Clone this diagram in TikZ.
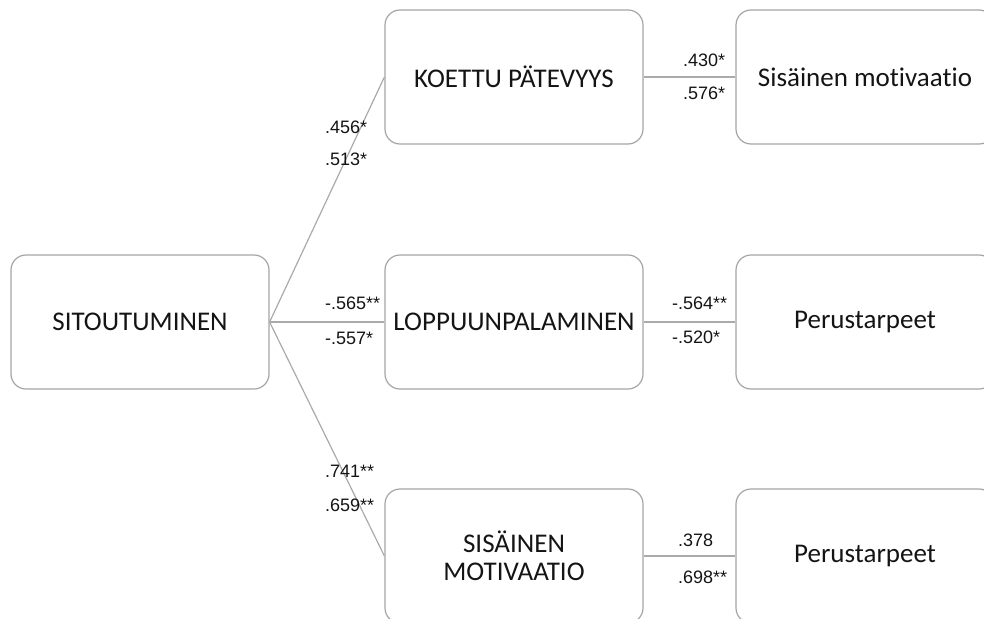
\documentclass[tikz,border=0pt]{standalone}
\usepackage{fontspec}
\setmainfont[Ligatures={NoCommon}]{Carlito}
\newfontfamily\labfont{Liberation Sans}
\definecolor{boxline}{RGB}{165,165,165}
\definecolor{conline}{RGB}{170,170,170}
\definecolor{txt}{RGB}{20,20,20}
\begin{document}
\begin{tikzpicture}[x=1pt,y=-1pt,
  box/.style={draw=boxline,line width=1.2pt,rounded corners=15pt,minimum width=258pt,minimum height=134pt,inner sep=0pt,align=center,text=txt,font=\fontsize{27}{31}\selectfont},
  conn/.style={draw=conline,line width=1.2pt},
  lab/.style={anchor=west,inner sep=0pt,text=txt,font=\labfont\fontsize{18}{20}\selectfont}]
\useasboundingbox (0,0) rectangle (984,618);
\clip (0,0) rectangle (984,618);
\node[box] (sit) at (140,322) {SITOUTUMINEN};
\node[box] (kp) at (514,77) {KOETTU PÄTEVYYS};
\node[box] (lp) at (514,322) {LOPPUUNPALAMINEN};
\node[box] (sm) at (514,556) {SISÄINEN\\[-3pt]MOTIVAATIO};
\node[box] (r1) at (865,77) {Sisäinen motivaatio};
\node[box] (r2) at (865,322) {Perustarpeet};
\node[box] (r3) at (865,556) {Perustarpeet};
\draw[conn] (sit.east) -- (kp.west);
\draw[conn] (sit.east) -- (lp.west);
\draw[conn] (sit.east) -- (sm.west);
\draw[conn] (kp.east) -- (r1.west);
\draw[conn] (lp.east) -- (r2.west);
\draw[conn] (sm.east) -- (r3.west);
\node[lab] (l1) at (325,127) {.456*};
\node[lab] (l2) at (325,159) {.513*};
\node[lab] (l3) at (325,303) {-.565**};
\node[lab] (l4) at (325,338) {-.557*};
\node[lab] (l5) at (325,471) {.741**};
\node[lab] (l6) at (325,505) {.659**};
\node[lab] (l7) at (683,60) {.430*};
\node[lab] (l8) at (683,93) {.576*};
\node[lab] (l9) at (672,303) {-.564**};
\node[lab] (l10) at (672,337) {-.520*};
\node[lab] (l11) at (678,540) {.378};
\node[lab] (l12) at (678,577) {.698**};
\end{tikzpicture}
\end{document}
